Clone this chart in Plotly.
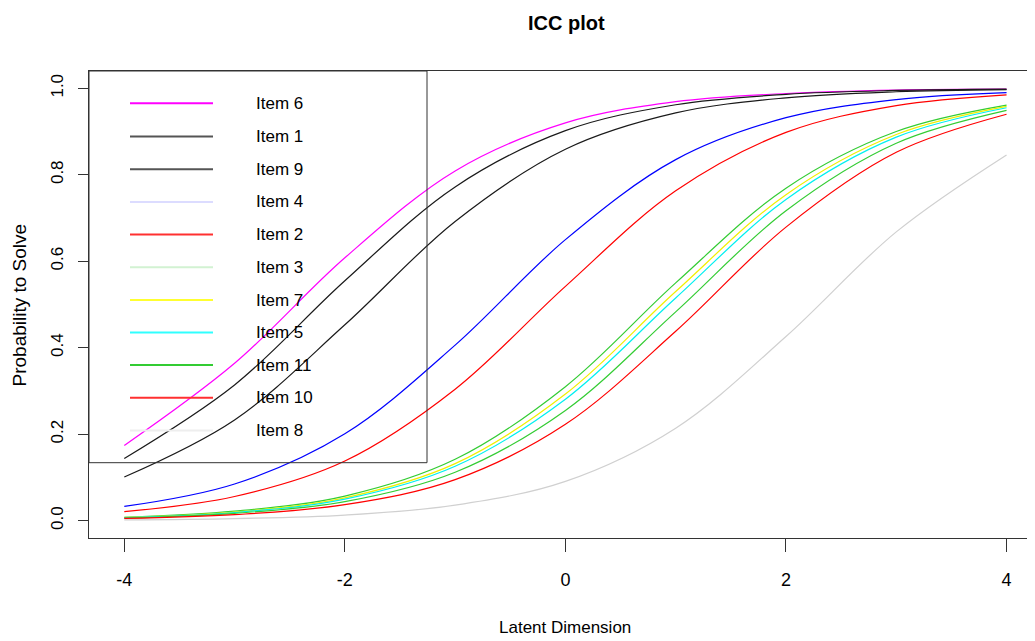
import plotly.graph_objects as go

# ---- data ----
theta = [-4, -3, -2, -1, 0, 1, 2, 3, 4]

item_names = ["Item 6", "Item 1", "Item 9", "Item 4", "Item 2", "Item 3",
              "Item 7", "Item 5", "Item 11", "Item 10", "Item 8"]

item6 = [0.174, 0.364, 0.608, 0.809, 0.920, 0.969, 0.988, 0.996, 0.998]
item1 = [0.144, 0.314, 0.555, 0.772, 0.902, 0.962, 0.986, 0.995, 0.998]
item9 = [0.101, 0.233, 0.453, 0.692, 0.859, 0.943, 0.978, 0.992, 0.997]
item4 = [0.033, 0.085, 0.201, 0.406, 0.650, 0.835, 0.932, 0.974, 0.990]
item2 = [0.021, 0.056, 0.138, 0.304, 0.542, 0.763, 0.898, 0.960, 0.985]
item11 = [0.008, 0.022, 0.057, 0.142, 0.310, 0.550, 0.769, 0.900, 0.961]
item7 = [0.0075, 0.020, 0.053, 0.132, 0.293, 0.530, 0.754, 0.893, 0.958]
item5 = [0.0071, 0.019, 0.050, 0.126, 0.281, 0.515, 0.743, 0.887, 0.955]
item3 = [0.0062, 0.017, 0.044, 0.112, 0.255, 0.483, 0.717, 0.873, 0.949]
item10 = [0.0052, 0.014, 0.037, 0.095, 0.223, 0.438, 0.679, 0.852, 0.940]
item8 = [0.0018, 0.005, 0.013, 0.036, 0.091, 0.214, 0.426, 0.668, 0.846]

series = {
    "Item 6": item6, "Item 1": item1, "Item 9": item9, "Item 4": item4,
    "Item 2": item2, "Item 3": item3, "Item 7": item7, "Item 5": item5,
    "Item 11": item11, "Item 10": item10, "Item 8": item8,
}

curve_colors = {
    "Item 6": "#FF00FF", "Item 1": "#1a1a1a", "Item 9": "#1a1a1a",
    "Item 4": "#0000FF", "Item 2": "#FF0000", "Item 3": "#33CC33",
    "Item 7": "#F0F000", "Item 5": "#00F0F0", "Item 11": "#33CC33",
    "Item 10": "#FF0000", "Item 8": "#D0D0D0",
}
legend_colors = {
    "Item 6": "#FF00FF", "Item 1": "#555555", "Item 9": "#555555",
    "Item 4": "#DCDCFF", "Item 2": "#FF3030", "Item 3": "#D2F2D2",
    "Item 7": "#FFFF30", "Item 5": "#30FFFF", "Item 11": "#33CC33",
    "Item 10": "#FF3030", "Item 8": "#EEEEEE",
}

# ---- layout geometry (screen pixels of the reference) ----
OFF = 8                      # default body margin of the html page
SW, SH = 1035, 641           # screen size
PX0, PX1 = 89, 1035          # plot area left/right on screen
PY0, PY1 = 71, 538           # plot area top/bottom on screen
W, H = SW - OFF, SH - OFF
L, R = PX0 - OFF, SW - PX1
T, B = PY0 - OFF, SH - PY1
XR = [-4.32, 4.258]
YR = [-0.04, 1.04]
pw = PX1 - PX0
ph = PY1 - PY0


def px2x(px):
    return XR[0] + (px - PX0) / pw * (XR[1] - XR[0])


def py2y(py):
    return YR[0] + (PY1 - py) / ph * (YR[1] - YR[0])


def ppx(px):
    return (px - PX0) / pw


def ppy(py):
    return (PY1 - py) / ph


FONT = "Liberation Sans, Arial, sans-serif"

fig = go.Figure()
for name in ["Item 6", "Item 1", "Item 9", "Item 4", "Item 2", "Item 11",
             "Item 7", "Item 5", "Item 3", "Item 10", "Item 8"]:
    fig.add_trace(go.Scatter(
        x=theta, y=series[name], mode="lines", name=name,
        line=dict(color=curve_colors[name], width=1.2, shape="spline", smoothing=1.0),
        showlegend=False, hoverinfo="x+y+name",
    ))

shapes = []
annotations = []
# legend box (no fill, curves show through)
shapes.append(dict(type="rect", xref="x", yref="y",
                   x0=px2x(89), x1=px2x(427), y0=py2y(462.7), y1=py2y(71),
                   line=dict(color="#333333", width=1), fillcolor="rgba(0,0,0,0)",
                   layer="above"))
row_y = [103.3, 136.4, 169.2, 201.9, 234.6, 267.3, 300.0, 332.4, 365.1, 397.8, 430.5]
for name, yy in zip(item_names, row_y):
    shapes.append(dict(type="line", xref="x", yref="y",
                       x0=px2x(130), x1=px2x(213), y0=py2y(yy), y1=py2y(yy),
                       line=dict(color=legend_colors[name], width=2), layer="above"))
    annotations.append(dict(xref="x", yref="y", x=px2x(254), y=py2y(yy),
                            text=name, showarrow=False, xanchor="left", yanchor="middle",
                            font=dict(family=FONT, size=17, color="#000000")))

# title and axis titles
annotations.append(dict(xref="paper", yref="paper", x=ppx(566), y=ppy(23),
                        text="<b>ICC plot</b>", showarrow=False, xanchor="center",
                        yanchor="middle", font=dict(family=FONT, size=20, color="#000")))
annotations.append(dict(xref="paper", yref="paper", x=ppx(565), y=ppy(627),
                        text="Latent Dimension", showarrow=False, xanchor="center",
                        yanchor="middle", font=dict(family=FONT, size=17, color="#000")))
annotations.append(dict(xref="paper", yref="paper", x=ppx(18.5), y=ppy(305),
                        text="Probability to Solve", showarrow=False, xanchor="center",
                        yanchor="middle", textangle=-90,
                        font=dict(family=FONT, size=19, color="#000")))

fig.update_layout(
    width=W, height=H,
    margin=dict(l=L, r=R, t=T, b=B, pad=0),
    paper_bgcolor="white", plot_bgcolor="white",
    shapes=shapes, annotations=annotations,
    xaxis=dict(range=XR, tickvals=[-4, -2, 0, 2, 4], ticktext=["-4", "-2", "0", "2", "4"],
               showgrid=False, zeroline=False, showline=True, linecolor="#333333",
               linewidth=1, mirror=True, ticks="outside", ticklen=13, tickcolor="#333333",
               tickfont=dict(family=FONT, size=18, color="#000"), ticklabelstandoff=12),
    yaxis=dict(range=YR, tickvals=[0, 0.2, 0.4, 0.6, 0.8, 1.0],
               ticktext=["0.0", "0.2", "0.4", "0.6", "0.8", "1.0"],
               showgrid=False, zeroline=False, showline=True, linecolor="#333333",
               linewidth=1, mirror=False, ticks="outside", ticklen=10, tickcolor="#333333",
               tickangle=-90, tickfont=dict(family=FONT, size=17, color="#000"),
               ticklabelstandoff=8),
)

fig.write_html("out.html")
